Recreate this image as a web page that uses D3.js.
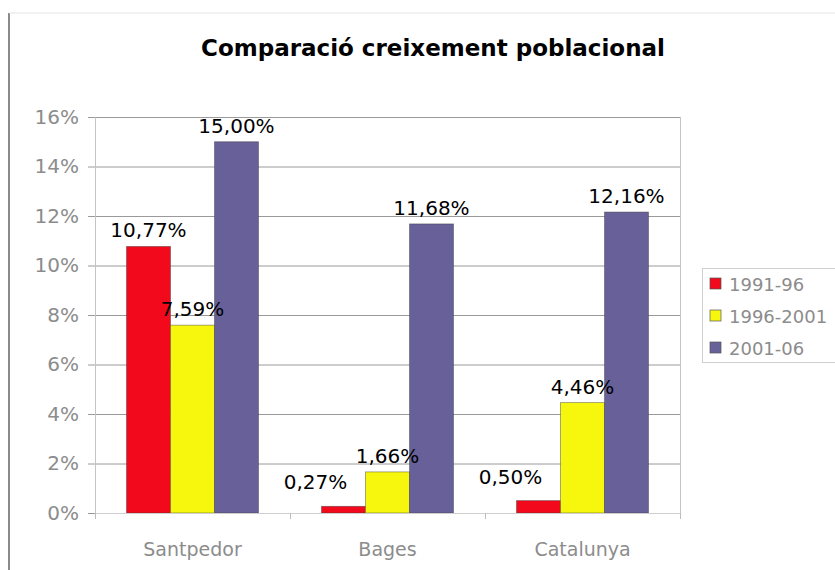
<!DOCTYPE html>
<html>
<head>
<meta charset="utf-8">
<script src="https://cdn.jsdelivr.net/npm/d3@7"></script>
<style>
  body { margin: 0; background: #fff; }
  svg { display: block; font-family: "DejaVu Sans", Verdana, sans-serif; }
</style>
</head>
<body>
<svg width="835" height="570"></svg>
<script>
// chart data
var categories = ["Santpedor", "Bages", "Catalunya"];
var seriesNames = ["1991-96", "1996-2001", "2001-06"];
var values1991 = [10.77, 0.27, 0.50];
var values1996 = [7.59, 1.66, 4.46];
var values2001 = [15.00, 11.68, 12.16];
var yTicks = [0, 2, 4, 6, 8, 10, 12, 14, 16];
var colors = ["#f20a1c", "#f7f70e", "#676099"];

var svg = d3.select("svg"),
    margin = {top: 117, left: 95},
    width = 585,
    height = 396;

// outer frame (left edge and top edge of the chart sheet)
svg.append("line")
    .attr("x1", 9).attr("x2", 9).attr("y1", 13).attr("y2", 570)
    .attr("stroke", "#8a8a8a").attr("stroke-width", 2);
svg.append("line")
    .attr("x1", 9).attr("x2", 835).attr("y1", 13).attr("y2", 13)
    .attr("stroke", "#e4e4e4").attr("stroke-width", 1);

// title
svg.append("text")
    .attr("x", 433).attr("y", 56)
    .attr("text-anchor", "middle")
    .style("font-size", "23px")
    .style("font-weight", "bold")
    .attr("fill", "#000")
    .text("Comparació creixement poblacional");

var x = d3.scaleBand().domain(categories).range([0, width]).paddingInner(0).paddingOuter(0);
var xSub = d3.scaleBand().domain(seriesNames).range([31.5, x.bandwidth() - 31.5]);
var y = d3.scaleLinear().domain([0, 16]).range([height, 0]);

var g = svg.append("g")
    .attr("transform", "translate(" + margin.left + "," + margin.top + ")");

// gridlines
g.selectAll(".grid")
    .data(yTicks.filter(function (d) { return d > 0; }))
    .enter().append("line")
    .attr("class", "grid")
    .attr("x1", 0).attr("x2", width)
    .attr("y1", function (d) { return y(d) + 0.5; })
    .attr("y2", function (d) { return y(d) + 0.5; })
    .attr("stroke", "#9a9a9a");

// right edge of plot area
g.append("line")
    .attr("x1", width + 0.5).attr("x2", width + 0.5)
    .attr("y1", 0).attr("y2", height)
    .attr("stroke", "#c4c4c4");

// y axis
var yAxis = g.append("g")
    .call(d3.axisLeft(y).tickValues(yTicks).tickSize(7).tickPadding(9)
        .tickFormat(function (d) { return d + "%"; }));
yAxis.select(".domain").attr("stroke", "#c4c4c4");
yAxis.selectAll(".tick line").attr("stroke", "#9a9a9a");
yAxis.selectAll("text")
    .attr("fill", "#8c8c8c")
    .style("font-size", "20px")
    .style("font-family", "DejaVu Sans, Verdana, sans-serif");

// bars
var table = categories.map(function (c, i) {
    return {category: c, vals: [values1991[i], values1996[i], values2001[i]]};
});

var groups = g.selectAll(".group")
    .data(table)
    .enter().append("g")
    .attr("class", "group")
    .attr("transform", function (d) { return "translate(" + x(d.category) + ",0)"; });

groups.selectAll("rect")
    .data(function (d) {
        return d.vals.map(function (v, k) { return {series: seriesNames[k], k: k, value: v}; });
    })
    .enter().append("rect")
    .attr("x", function (d) { return xSub(d.series); })
    .attr("y", function (d) { return y(d.value); })
    .attr("width", xSub.bandwidth())
    .attr("height", function (d) { return height - y(d.value); })
    .attr("fill", function (d) { return colors[d.k]; })
    .attr("stroke", "rgba(60,60,60,0.55)")
    .attr("stroke-width", 0.8);

// value labels
groups.selectAll(".lbl")
    .data(function (d) {
        return d.vals.map(function (v, k) { return {series: seriesNames[k], k: k, value: v}; });
    })
    .enter().append("text")
    .attr("class", "lbl")
    .attr("x", function (d) {
        var cx = xSub(d.series) + xSub.bandwidth() / 2;
        // small first-series values sit to the left, like the original
        return (d.k === 0 && d.value < 1) ? cx - 28 : cx;
    })
    .attr("y", function (d) {
        return (d.value < 1) ? y(d.value) - 17 : y(d.value) - 9;
    })
    .attr("text-anchor", "middle")
    .style("font-size", "20px")
    .attr("fill", "#000")
    .text(function (d) { return d.value.toFixed(2).replace(".", ",") + "%"; });

// x axis
var xAxis = g.append("g")
    .attr("transform", "translate(0," + height + ")")
    .call(d3.axisBottom(x).tickSize(0).tickPadding(30));
xAxis.select(".domain").attr("stroke", "#cfcfcf");
xAxis.selectAll("text")
    .attr("fill", "#8c8c8c")
    .style("font-size", "19px")
    .style("font-family", "DejaVu Sans, Verdana, sans-serif");

// category separator ticks
g.selectAll(".sep")
    .data(categories.concat(["end"]))
    .enter().append("line")
    .attr("class", "sep")
    .attr("x1", function (d, i) { return i * x.step() + 0.5; })
    .attr("x2", function (d, i) { return i * x.step() + 0.5; })
    .attr("y1", height).attr("y2", height + 6)
    .attr("stroke", "#bdbdbd");

// legend
var legend = svg.append("g").attr("transform", "translate(702,268)");
legend.append("rect")
    .attr("x", 0.5).attr("y", 0.5).attr("width", 140).attr("height", 94)
    .attr("fill", "#fff").attr("stroke", "#cfcfcf");

var item = legend.selectAll(".item")
    .data(seriesNames)
    .enter().append("g")
    .attr("class", "item")
    .attr("transform", function (d, i) { return "translate(0," + (16 + i * 32) + ")"; });

item.append("rect")
    .attr("x", 8).attr("y", -6).attr("width", 11).attr("height", 11)
    .attr("fill", function (d, i) { return colors[i]; })
    .attr("stroke", "#555").attr("stroke-width", 0.7);

item.append("text")
    .attr("x", 27).attr("y", 7)
    .style("font-size", "18px")
    .attr("fill", "#8c8c8c")
    .text(function (d) { return d; });
</script>
</body>
</html>
